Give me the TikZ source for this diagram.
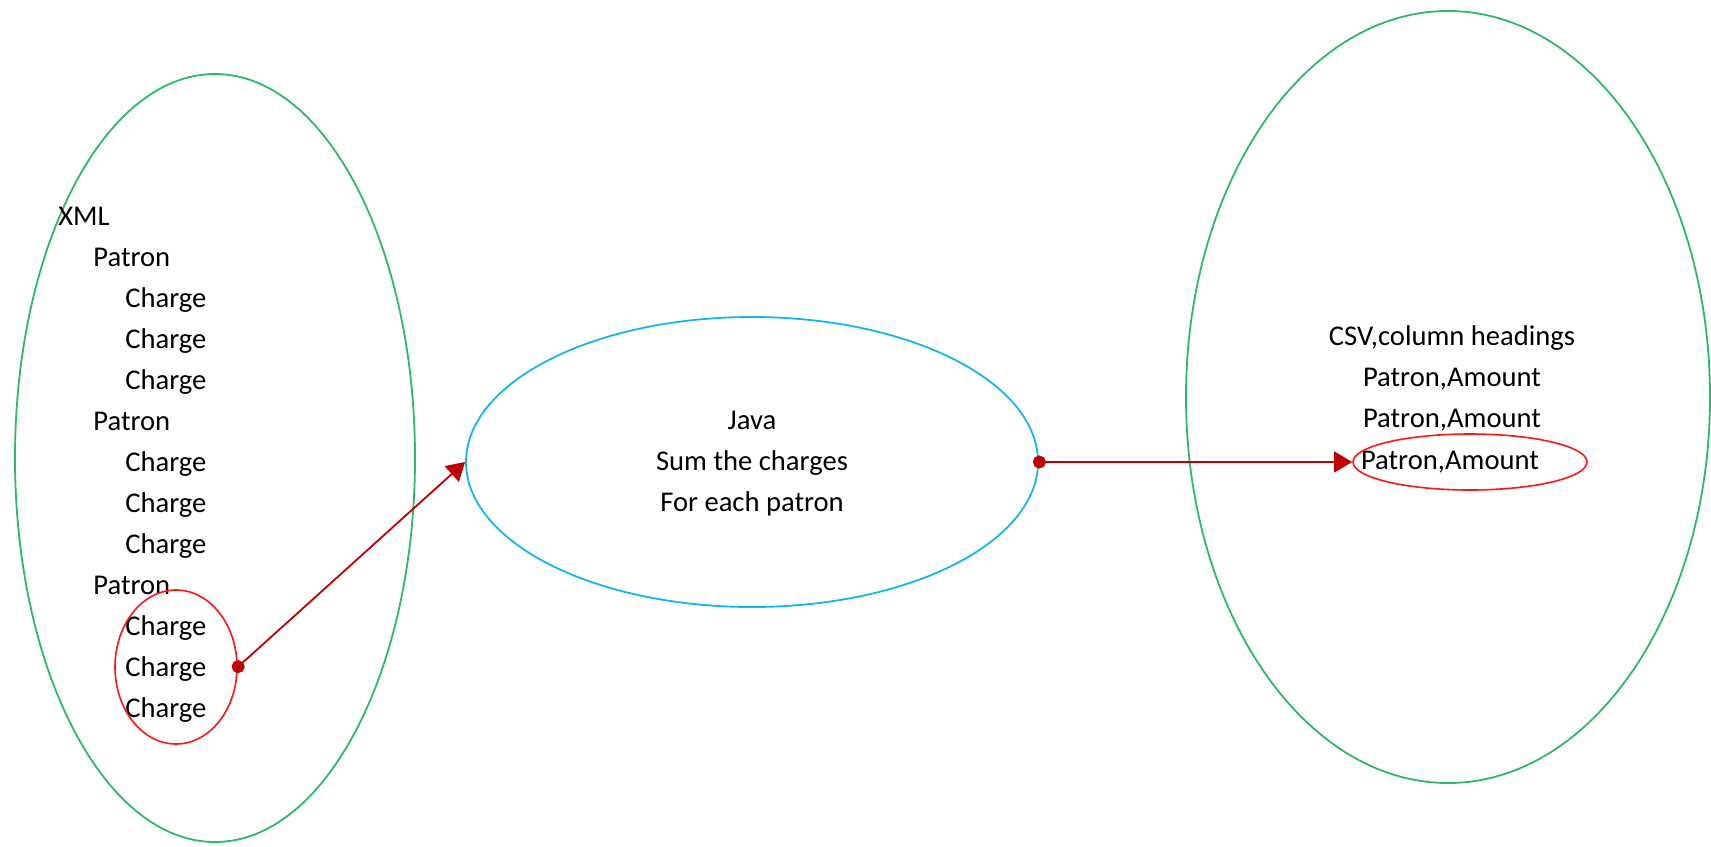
\documentclass[tikz,border=0pt]{standalone}
\usepackage{fontspec}
\setmainfont{Carlito}
\usetikzlibrary{shapes.geometric,arrows.meta}
\definecolor{ringgreen}{RGB}{46,184,104}
\definecolor{ringblue}{RGB}{20,182,240}
\definecolor{markred}{RGB}{255,20,20}
\definecolor{flowred}{RGB}{192,0,0}

\begin{document}
\begin{tikzpicture}[x=0.5pt, y=-0.5pt,
		every node/.style={font=\fontsize{14.3pt}{20.5pt}\selectfont, inner sep=0pt},
		ring/.style={draw, ellipse, line width=0.9pt},
		txt/.style={anchor=base west},
		flow/.style={draw=flowred, line width=0.9pt, {Circle[length=6.5pt]}-{Triangle[length=9pt, width=10.5pt]}, shorten <=-3pt}]
				\useasboundingbox (0,0) rectangle (1711,846);
				% the three groups
				\node[ring, ringgreen, minimum width=200pt, minimum height=384pt] (XMLring)at(215, 458) {};
				\node[ring, ringblue, minimum width=286pt, minimum height=145pt] (Java)at(752, 462) {};
				\node[ring, ringgreen, minimum width=262pt, minimum height=386pt] (CSVring)at(1448, 397) {};
				% xml tree
				\node[txt] (X)at(58, 225) {XML};
				\node[txt] (P1)at(93, 266) {Patron};
				\node[txt] (C11)at(125, 307) {Charge};
				\node[txt] (C12)at(125, 348) {Charge};
				\node[txt] (C13)at(125, 389) {Charge};
				\node[txt] (P2)at(93, 430) {Patron};
				\node[txt] (C21)at(125, 471) {Charge};
				\node[txt] (C22)at(125, 512) {Charge};
				\node[txt] (C23)at(125, 553) {Charge};
				\node[txt] (P3)at(93, 594) {Patron};
				\node[txt] (C31)at(125, 635) {Charge};
				\node[txt] (C32)at(125, 676) {Charge};
				\node[txt] (C33)at(125, 717) {Charge};
				\node[ring, markred, line width=0.8pt, minimum width=61pt, minimum height=77pt] (Group)at(176, 667) {};
				% java step
				\node[anchor=base] (J1)at(752, 429) {Java};
				\node[anchor=base] (J2)at(752, 470) {Sum the charges};
				\node[anchor=base] (J3)at(752, 511) {For each patron};
				% csv output
				\node[anchor=base] (H)at(1452, 345) {CSV,column headings};
				\node[anchor=base] (R1)at(1452, 386) {Patron,Amount};
				\node[anchor=base] (R2)at(1452, 427) {Patron,Amount};
				\node[anchor=base] (R3)at(1450, 469) {Patron,Amount};
				\node[ring, markred, line width=0.8pt, minimum width=117pt, minimum height=28pt] (Row)at(1470, 462) {};
				\draw[flow] (Group.east) -- (Java.west);
				\draw[flow] (Java.east) -- (Row.west);
			\end{tikzpicture}
\end{document}
